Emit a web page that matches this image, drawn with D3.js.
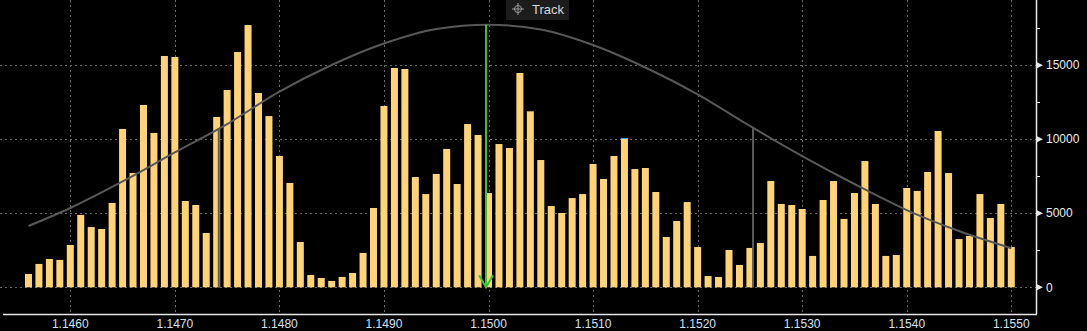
<!DOCTYPE html>
<html>
<head>
<meta charset="utf-8">
<script src="https://cdn.jsdelivr.net/npm/d3@7"></script>
<style>
  html, body { margin: 0; padding: 0; background: #000; }
  svg { display: block; font-family: "Liberation Sans", Arial, sans-serif; }
</style>
</head>
<body>
<svg id="chart" width="1087" height="331"></svg>
<script>
// price levels (one bar each)
const prices = [
  1.1456, 1.1457, 1.1458, 1.1459, 1.1460, 1.1461, 1.1462, 1.1463, 1.1464, 1.1465,
  1.1466, 1.1467, 1.1468, 1.1469, 1.1470, 1.1471, 1.1472, 1.1473, 1.1474, 1.1475,
  1.1476, 1.1477, 1.1478, 1.1479, 1.1480, 1.1481, 1.1482, 1.1483, 1.1484, 1.1485,
  1.1486, 1.1487, 1.1488, 1.1489, 1.1490, 1.1491, 1.1492, 1.1493, 1.1494, 1.1495,
  1.1496, 1.1497, 1.1498, 1.1499, 1.1500, 1.1501, 1.1502, 1.1503, 1.1504, 1.1505,
  1.1506, 1.1507, 1.1508, 1.1509, 1.1510, 1.1511, 1.1512, 1.1513, 1.1514, 1.1515,
  1.1516, 1.1517, 1.1518, 1.1519, 1.1520, 1.1521, 1.1522, 1.1523, 1.1524, 1.1525,
  1.1526, 1.1527, 1.1528, 1.1529, 1.1530, 1.1531, 1.1532, 1.1533, 1.1534, 1.1535,
  1.1536, 1.1537, 1.1538, 1.1539, 1.1540, 1.1541, 1.1542, 1.1543, 1.1544, 1.1545,
  1.1546, 1.1547, 1.1548, 1.1549, 1.1550
];

// volume at each price
const volumes = [
  900, 1580, 1910, 1850, 2860, 4890, 4070, 3940, 5700, 10700,
  7720, 12320, 10430, 15630, 15560, 5830, 5560, 3670, 11510, 13330,
  15900, 17720, 13130, 11570, 8870, 7050, 3060, 830, 630, 430,
  700, 970, 2320, 5360, 12250, 14820, 14750, 7450, 6300, 7660,
  9350, 6980, 11030, 10290, 6370, 9680, 9410, 14480, 11890, 8600,
  5490, 5020, 6030, 6300, 8330, 7320, 8870, 10090, 7990, 8060,
  6440, 3400, 4480, 5760, 2720, 760, 700, 2520, 1510, 2660,
  2990, 7180, 5630, 5560, 5290, 2120, 5900, 7180, 4620, 6370,
  8530, 5630, 2120, 2180, 6710, 6510, 7790, 10560, 7720, 3260,
  3470, 6300, 4680, 5630, 2720
];

// fitted distribution curve
const curvePrices = [
  1.1456, 1.1460, 1.1465, 1.1470, 1.1475, 1.1480, 1.1485, 1.1490, 1.1495, 1.1500,
  1.1505, 1.1510, 1.1515, 1.1520, 1.1525, 1.1530, 1.1535, 1.1540, 1.1545, 1.1550
];
const curveValues = [
  4140, 5360, 7150, 9110, 11030, 13220, 15020, 16470, 17450, 17740,
  17420, 16370, 14850, 13040, 10900, 8870, 6980, 5220, 3800, 2640
];

// mean and +/- one sigma markers
const meanPrice = 1.14998;
const meanValue = 17740;
const sigmaPrices = [1.14742, 1.15253];
const sigmaValues = [10760, 10760];

const highlightPrice = 1.1513;

const xTicks = [1.1460, 1.1470, 1.1480, 1.1490, 1.1500, 1.1510, 1.1520, 1.1530, 1.1540, 1.1550];
const xTickLabels = ["1.1460", "1.1470", "1.1480", "1.1490", "1.1500", "1.1510", "1.1520", "1.1530", "1.1540", "1.1550"];
const yTicks = [0, 5000, 10000, 15000];
const yMinorTicks = [2500, 7500, 12500, 17500];

const svg = d3.select('#chart');
const axisX = 1036;
const axisY = 314;

const x = d3.scaleLinear()
  .domain([1.1460, 1.1550])
  .range([70.3, 1011.3]);
const y = d3.scaleLinear()
  .domain([0, 19412])
  .range([287.3, 0]);

const barW = 7;

svg.append('rect').attr('width', 1087).attr('height', 331).attr('fill', '#000');

// grid
const grid = svg.append('g')
  .attr('stroke', '#6a6a6a')
  .attr('stroke-width', 1)
  .attr('stroke-dasharray', '2,3');
grid.selectAll('line.h')
  .data(yTicks)
  .enter().append('line')
  .attr('class', 'h')
  .attr('x1', 0).attr('x2', axisX)
  .attr('y1', d => Math.round(y(d)) + 0.5)
  .attr('y2', d => Math.round(y(d)) + 0.5);
grid.selectAll('line.v')
  .data(xTicks)
  .enter().append('line')
  .attr('class', 'v')
  .attr('x1', d => Math.round(x(d)) + 0.5)
  .attr('x2', d => Math.round(x(d)) + 0.5)
  .attr('y1', 0).attr('y2', axisY);

// bars
svg.append('g')
  .selectAll('rect')
  .data(prices)
  .enter().append('rect')
  .attr('x', d => x(d) - barW / 2)
  .attr('width', barW)
  .attr('y', (d, i) => y(volumes[i]))
  .attr('height', (d, i) => y(0) - y(volumes[i]))
  .attr('fill', '#ffd37a');

// small blue marker on top of the highlighted bar
const hi = prices.indexOf(highlightPrice);
svg.append('line')
  .attr('x1', x(highlightPrice) - barW / 2)
  .attr('x2', x(highlightPrice) + barW / 2)
  .attr('y1', y(volumes[hi]) + 0.5)
  .attr('y2', y(volumes[hi]) + 0.5)
  .attr('stroke', '#3d9cff')
  .attr('stroke-width', 1);

// sigma lines
svg.append('g')
  .selectAll('line')
  .data(sigmaPrices)
  .enter().append('line')
  .attr('x1', d => x(d)).attr('x2', d => x(d))
  .attr('y1', (d, i) => y(sigmaValues[i]))
  .attr('y2', y(0))
  .attr('stroke', '#5c5c5c')
  .attr('stroke-width', 2);

// distribution curve
svg.append('path')
  .datum(curvePrices)
  .attr('fill', 'none')
  .attr('stroke', '#585858')
  .attr('stroke-width', 2)
  .attr('d', d3.line()
    .x(d => x(d))
    .y((d, i) => y(curveValues[i]))
    .curve(d3.curveMonotoneX));

// mean arrow
const mx = Math.round(x(meanPrice));
svg.append('line')
  .attr('x1', mx).attr('x2', mx)
  .attr('y1', y(meanValue)).attr('y2', y(0))
  .attr('stroke', '#35c435')
  .attr('stroke-width', 2);
svg.append('path')
  .attr('d', `M${mx - 7},${y(0) - 12}L${mx},${y(0)}L${mx + 7},${y(0) - 12}`)
  .attr('fill', 'none')
  .attr('stroke', '#35c435')
  .attr('stroke-width', 2);

// axes lines
svg.append('line')
  .attr('x1', axisX + 0.5).attr('x2', axisX + 0.5)
  .attr('y1', 0).attr('y2', axisY)
  .attr('stroke', '#e6e6e6').attr('stroke-width', 1.5);
svg.append('line')
  .attr('x1', 3).attr('x2', axisX + 1)
  .attr('y1', axisY + 0.5).attr('y2', axisY + 0.5)
  .attr('stroke', '#e6e6e6').attr('stroke-width', 1.5);

// right axis ticks
const yAxis = svg.append('g');
yAxis.selectAll('path')
  .data(yTicks)
  .enter().append('path')
  .attr('d', d => {
    const yy = y(d);
    return `M${axisX},${yy - 3.5}L${axisX + 7},${yy}L${axisX},${yy + 3.5}Z`;
  })
  .attr('fill', '#e6e6e6');
yAxis.selectAll('line')
  .data(yMinorTicks)
  .enter().append('line')
  .attr('x1', axisX).attr('x2', axisX + 4)
  .attr('y1', d => Math.round(y(d)) + 0.5)
  .attr('y2', d => Math.round(y(d)) + 0.5)
  .attr('stroke', '#e6e6e6');
yAxis.selectAll('text')
  .data(yTicks)
  .enter().append('text')
  .attr('x', axisX + 10)
  .attr('y', d => y(d))
  .attr('dy', '0.35em')
  .attr('font-size', 12)
  .attr('fill', '#e8ecf2')
  .text(d => d);

// bottom labels
svg.append('g')
  .selectAll('text')
  .data(xTicks)
  .enter().append('text')
  .attr('x', d => x(d))
  .attr('y', 328)
  .attr('text-anchor', 'middle')
  .attr('font-size', 12)
  .attr('fill', '#d6e2f4')
  .text((d, i) => xTickLabels[i]);

// "Track" button
const btn = svg.append('g');
btn.append('rect')
  .attr('x', 506).attr('y', 0)
  .attr('width', 63).attr('height', 20)
  .attr('fill', '#1c1c1c');
const cx = 518, cy = 9;
btn.append('circle')
  .attr('cx', cx).attr('cy', cy).attr('r', 3.5)
  .attr('fill', 'none').attr('stroke', '#9a9a9a');
btn.append('path')
  .attr('d', `M${cx - 6},${cy}H${cx + 6}M${cx},${cy - 6}V${cy + 6}`)
  .attr('stroke', '#9a9a9a');
btn.append('text')
  .attr('x', 532).attr('y', 14)
  .attr('font-size', 13)
  .attr('fill', '#d8d8d8')
  .text('Track');
</script>
</body>
</html>
